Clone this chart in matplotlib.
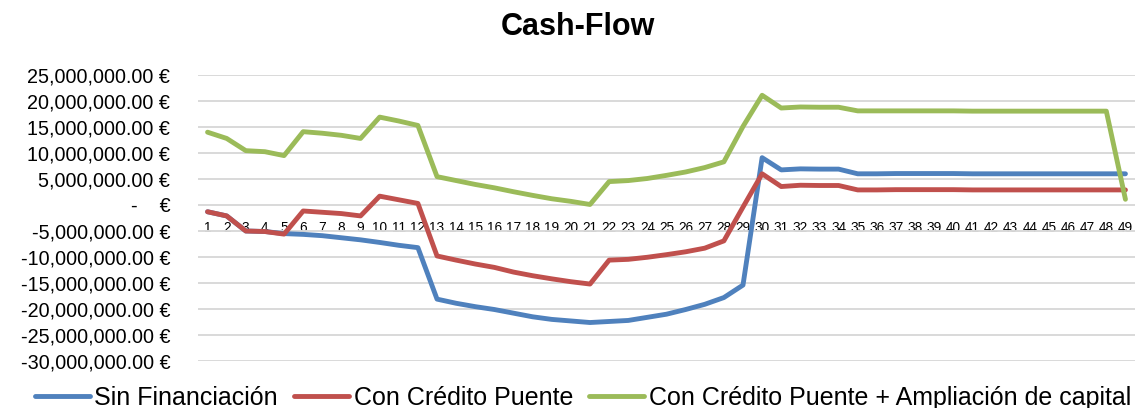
import matplotlib
matplotlib.use("Agg")
import matplotlib.pyplot as plt
import matplotlib.ticker as ticker

# monthly cash-flow per scenario, in millions of euros
periods = list(range(1, 50))

sin_financiacion = [
    -1.3, -2.1, -5.0, -5.1, -5.5, -5.65, -5.9, -6.3, -6.7, -7.2,
    -7.75, -8.2, -18.1, -18.9, -19.55, -20.1, -20.8, -21.5, -22.0, -22.3,
    -22.6, -22.4, -22.2, -21.6, -21.0, -20.1, -19.1, -17.8, -15.4, 9.1,
    6.75, 6.95, 6.9, 6.9, 6.0, 6.0, 6.05, 6.05, 6.05, 6.05,
    6.0, 6.0, 6.0, 6.0, 6.0, 6.0, 6.0, 6.0, 6.0,
]

con_credito_puente = [
    -1.3, -2.1, -5.0, -5.1, -5.6, -1.15, -1.4, -1.65, -2.1, 1.7,
    1.0, 0.3, -9.8, -10.6, -11.35, -12.0, -12.9, -13.6, -14.2, -14.75,
    -15.2, -10.6, -10.45, -10.05, -9.55, -9.0, -8.3, -6.9, -0.4, 6.0,
    3.55, 3.8, 3.75, 3.75, 2.9, 2.9, 2.95, 2.95, 2.95, 2.95,
    2.9, 2.9, 2.9, 2.9, 2.9, 2.9, 2.9, 2.9, 2.9,
]

con_ampliacion = [
    14.0, 12.8, 10.45, 10.25, 9.5, 14.1, 13.8, 13.4, 12.8, 16.9,
    16.15, 15.3, 5.45, 4.7, 3.95, 3.3, 2.55, 1.85, 1.2, 0.7,
    0.1, 4.5, 4.7, 5.1, 5.7, 6.35, 7.2, 8.3, 15.1, 21.1,
    18.65, 18.85, 18.8, 18.8, 18.1, 18.1, 18.1, 18.1, 18.1, 18.1,
    18.05, 18.05, 18.05, 18.05, 18.05, 18.05, 18.05, 18.05, 1.1,
]

series_labels = [
    "Sin Financiación",
    "Con Crédito Puente",
    "Con Crédito Puente + Ampliación de capital",
]
series_colors = ["#4f81bd", "#c0504d", "#9bbb59"]


def euro_label(tick_val: float, pos: int) -> str:
    """euro_label

    Args:
        tick_val (float): y value in millions of euros
        pos (int): tick position on graph

    Returns:
        str: accounting style label
    """
    if abs(tick_val) < 1e-9:
        return "-    €"
    return f"{tick_val * 1e6:,.2f} €"


def display() -> None:
    """display

    draws the three cash-flow scenarios as lines over the 49 periods
    and saves the figure to out.png.
    """
    plt.rcParams["font.family"] = ["Liberation Sans", "DejaVu Sans"]
    fig = plt.figure(figsize=(11.35, 4.08), dpi=100)
    ax = fig.add_axes([198 / 1135, 1 - 361 / 408, 1 - 198 / 1135,
                       (361 - 75) / 408])

    x = list(range(len(periods)))
    all_series = [sin_financiacion, con_credito_puente, con_ampliacion]
    for values, label, color in zip(all_series, series_labels,
                                    series_colors):
        ax.plot(x, values, color=color, lw=3.5, label=label,
                solid_capstyle="round", solid_joinstyle="round")

    ax.set_xlim(-0.5, len(periods) - 0.5)
    ax.set_ylim(-30, 25)
    ax.yaxis.set_major_locator(ticker.MultipleLocator(5))
    ax.yaxis.set_major_formatter(ticker.FuncFormatter(euro_label))
    ax.grid(axis="y", color="#d9d9d9", lw=1.4)
    ax.set_axisbelow(True)

    # category labels sit just under the zero line
    ax.spines["bottom"].set_position(("data", 0))
    for side in ["top", "right", "left", "bottom"]:
        ax.spines[side].set_visible(False)
    ax.set_xticks(x)
    ax.set_xticklabels([str(p) for p in periods])
    ax.tick_params(axis="x", length=0, pad=11.5, labelsize=9.8)
    ax.tick_params(axis="y", length=0, pad=20, labelsize=14.2)

    fig.text(578 / 1135, 1 - 27 / 408, "Cash-Flow", ha="center",
             va="center", fontsize=22, fontweight="bold")

    fig.legend(loc="center", bbox_to_anchor=(583 / 1135, 10 / 408),
               ncol=3, frameon=False, fontsize=18, handlelength=2.2,
               handletextpad=0.18, columnspacing=0.65, borderpad=0)

    fig.savefig("out.png", dpi=100)


def main() -> None:
    """main

    builds the chart, printing any exception raised.
    """
    try:
        display()
    except Exception as e:
        print(f"{type(e).__name__}: {e}")


if __name__ == "__main__":
    main()
